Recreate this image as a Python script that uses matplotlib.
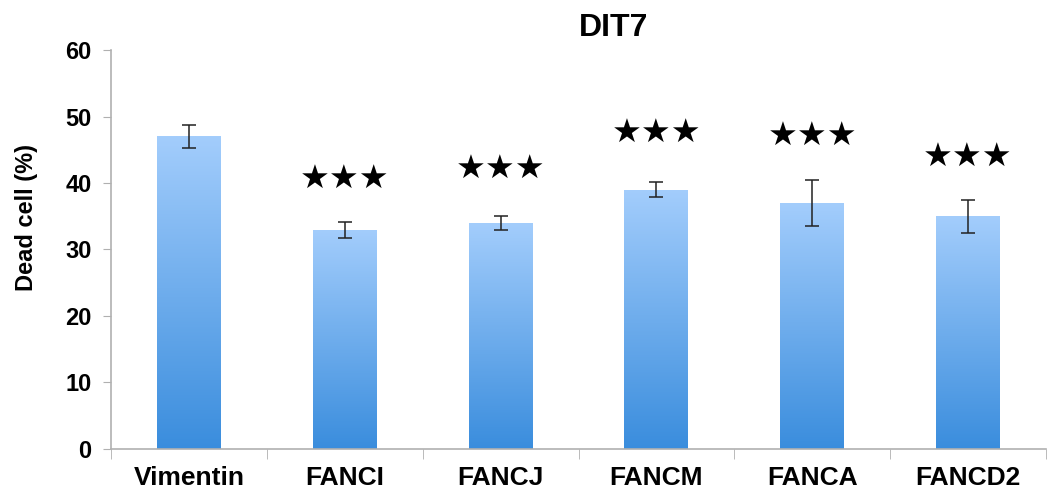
import numpy as np
import matplotlib.pyplot as plt
from matplotlib.colors import LinearSegmentedColormap

# data
categories = ["Vimentin", "FANCI", "FANCJ", "FANCM", "FANCA", "FANCD2"]
dead_cell = [47, 33, 34, 39, 37, 35]
errors = [1.7, 1.2, 1.0, 1.1, 3.5, 2.5]
star_y = [None, 40.6, 42.0, 47.4, 47.0, 43.8]
y_ticks = [0, 10, 20, 30, 40, 50, 60]

plt.rcParams['font.family'] = ['Liberation Sans', 'DejaVu Sans']

fig = plt.figure(figsize=(10.49, 4.96), dpi=100)
ax = fig.add_axes([0.106, 0.095, 0.891, 0.804])

x = np.arange(len(categories))
bar_w = 0.41
grad = LinearSegmentedColormap.from_list("bluegrad", ["#3a8ddd", "#a3cdfc"])
gradient = np.linspace(0, 1, 256).reshape(-1, 1)

bars = ax.bar(x, dead_cell, width=bar_w, color="none", edgecolor="none", zorder=2)
for b in bars:
    bx, by = b.get_x(), b.get_y()
    w, h = b.get_width(), b.get_height()
    im = ax.imshow(gradient, cmap=grad, origin="lower", aspect="auto",
                   extent=[bx, bx + w, by, by + h], zorder=2)
    im.set_clip_path(b)

ax.errorbar(x, dead_cell, yerr=errors, fmt="none", ecolor="#222222",
            elinewidth=1.1, capsize=5, capthick=1.1, zorder=3)

for xi, sy in zip(x, star_y):
    if sy is not None:
        ax.text(xi, sy, "\u2605\u2605\u2605", ha="center", va="center",
                fontsize=24, family=['DejaVu Sans'], color="black", zorder=4)

ax.set_xlim(-0.5, len(categories) - 0.5)
ax.set_ylim(0, 60)
ax.set_yticks(y_ticks)
ax.set_yticklabels([str(t) for t in y_ticks], fontsize=17, fontweight="bold")

ax.set_xticks(x)
ax.set_xticklabels(categories, fontsize=19, fontweight="bold")
ax.tick_params(axis="x", which="major", length=0, pad=12)
ax.set_xticks(np.arange(-0.5, len(categories)), minor=True)
ax.tick_params(axis="x", which="minor", length=7, color="#b0b0b0", direction="out")
ax.tick_params(axis="y", length=6, color="#b0b0b0", direction="out", pad=8)

for side in ["top", "right"]:
    ax.spines[side].set_visible(False)
for side in ["left", "bottom"]:
    ax.spines[side].set_color("#b0b0b0")
    ax.spines[side].set_linewidth(1.2)

ax.set_ylabel("Dead cell (%)", fontsize=17, fontweight="bold")
ax.yaxis.set_label_coords(-0.078, 0.58)
fig.text(0.585, 0.944, "DIT7", fontsize=23, fontweight="bold",
         ha="center", va="center")

fig.savefig("out.png", dpi=100)
